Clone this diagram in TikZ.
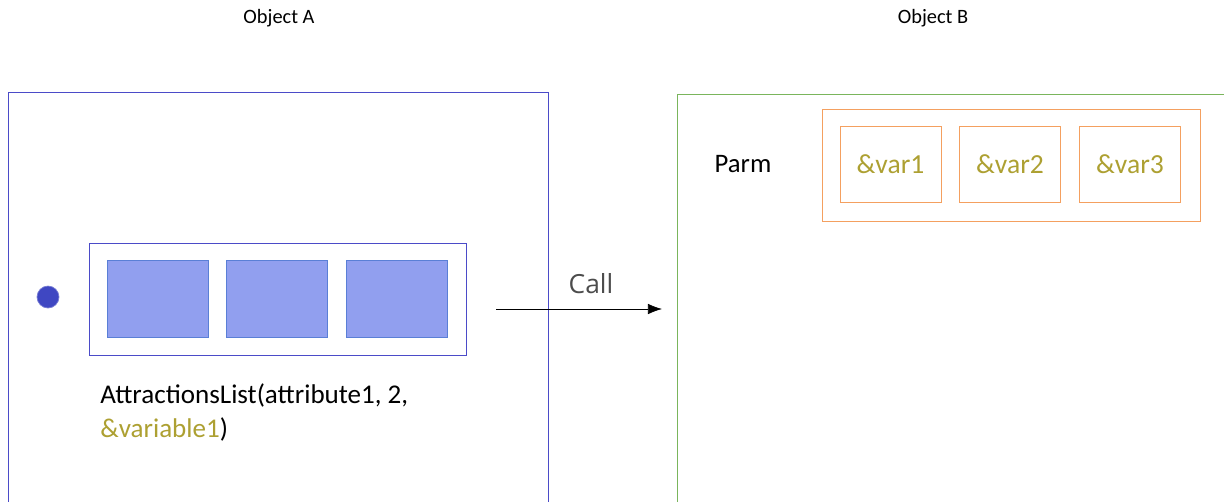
\documentclass[tikz,border=0pt]{standalone}
\usepackage{fontspec}
\setmainfont{Carlito}
\newfontfamily\callfont{Open Sans}
\usetikzlibrary{positioning,arrows.meta}
\definecolor{frameA}{HTML}{4B4BC8}
\definecolor{frameB}{HTML}{7AB55C}
\definecolor{cellfill}{HTML}{919FEF}
\definecolor{cellline}{HTML}{5A7FD6}
\definecolor{dotblue}{HTML}{3F47C2}
\definecolor{parmline}{HTML}{F4A060}
\definecolor{olive}{HTML}{ADA032}
\begin{document}
\begin{tikzpicture}[x=0.02cm,y=-0.02cm,
      title/.style={font=\fontsize{11.6}{13}\selectfont},
      cell/.style={draw=cellline,fill=cellfill,minimum width=2.02cm,minimum height=1.54cm,inner sep=0pt},
      listbox/.style={draw=frameA,minimum width=7.54cm,minimum height=2.24cm,inner sep=0pt},
      parmcell/.style={draw=parmline,text=olive,font=\fontsize{15.7}{18}\selectfont,minimum width=2.02cm,minimum height=1.52cm,inner sep=0pt},
      parmbox/.style={draw=parmline,minimum width=7.56cm,minimum height=2.24cm,inner sep=0pt}
      ]
      \useasboundingbox (0,0) rectangle (1224,501);
      % frames
      \draw[frameA] (8,510) -- (8,92) -- (548,92) -- (548,510);
      \draw[frameB] (677,510) -- (677,94) -- (1230,94);
      \node[title] (TA) at (279,18) {Object A};
      \node[title] (TB) at (933,18) {Object B};

      % object A
      \node[circle,fill=dotblue,draw=dotblue!70,minimum size=0.44cm,inner sep=0pt] (D) at (48,297) {};
      \node[listbox] (L) at (277.5,299) {};
      \node[cell] (C1) at (157.5,298.5) {};
      \node[cell] (C2) at (276.5,298.5) {};
      \node[cell] (C3) at (396.5,298.5) {};
      \node[anchor=north west,align=left,inner sep=0pt,font=\fontsize{15.4}{19.8}\selectfont] (F) at (100,383)
        {AttractionsList(attribute1, 2,\\\textcolor{olive}{\&variable1})};

      % object B
      \node[font=\fontsize{15.2}{17}\selectfont] (P) at (743,164) {Parm};
      \node[parmbox] (PB) at (1011,165) {};
      \node[parmcell] (V1) at (890.5,164) {\&var1};
      \node[parmcell] (V2) at (1010,164) {\&var2};
      \node[parmcell] (V3) at (1130,164) {\&var3};

      % call
      \coordinate (S) at (496,309);
      \coordinate (E) at (662,309);
      \draw[-{Latex[length=8pt,width=6pt]}] (S) -- node[above=5pt,xshift=0.24cm,font=\callfont\fontsize{15}{17}\selectfont\color{black!70}] (CL) {Call} (E);
\end{tikzpicture}
\end{document}
